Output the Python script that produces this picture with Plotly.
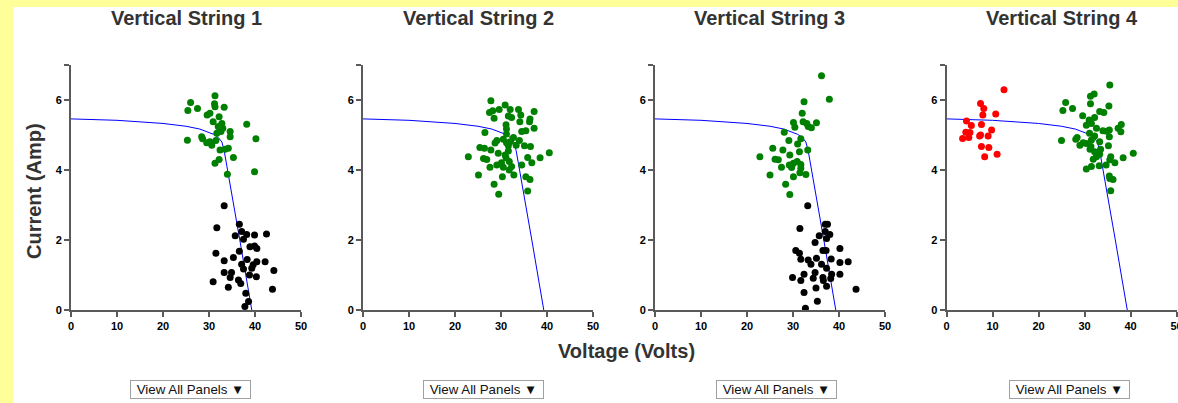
import plotly.graph_objects as go

W, H = 1178, 403

# IV reference curve (Voltage, Current)
curve_v = [0, 10, 20, 25, 28, 30, 31, 32, 32.8, 33.3, 34.0, 36.7, 39.3]
curve_i = [5.46, 5.42, 5.33, 5.25, 5.17, 5.08, 5.02, 4.93, 4.80, 4.55, 4.00, 2.00, 0.0]

# Panel 1
p1_green_v = [31.3, 26.0, 27.5, 25.4, 31.2, 31.3, 33.3, 30.2, 29.6, 32.2, 30.9, 32.8, 32.0, 33.0, 34.6,
              38.2, 25.3, 28.4, 28.6, 29.5, 30.6, 31.5, 32.6, 34.6, 32.4, 33.5, 34.2, 40.2, 35.3, 32.2,
              31.3, 34.0, 39.9, 32.4, 31.7, 30.2]
p1_green_i = [6.12, 5.93, 5.76, 5.70, 5.89, 5.81, 5.79, 5.62, 5.57, 5.52, 5.38, 5.33, 5.24, 5.19, 5.10,
              5.31, 4.85, 4.95, 4.89, 4.78, 4.71, 4.84, 5.10, 4.95, 4.57, 4.59, 4.62, 4.89, 4.36, 4.30,
              4.19, 3.88, 3.95, 5.14, 5.05, 4.81]
p1_black_v = [33.3, 31.7, 36.6, 37.1, 35.7, 38.2, 39.9, 42.5, 37.5, 38.9, 39.9, 40.4, 31.5, 36.6, 35.3,
              33.3, 38.3, 42.2, 40.4, 37.1, 39.6, 37.5, 39.3, 44.1, 33.3, 34.9, 34.6, 38.8, 40.3, 30.9,
              36.4, 36.9, 34.2, 43.8, 38.0, 38.6, 37.8]
p1_black_i = [2.98, 2.35, 2.45, 2.24, 2.12, 2.16, 2.14, 2.17, 2.02, 1.81, 1.83, 1.76, 1.62, 1.68, 1.50,
              1.41, 1.44, 1.38, 1.38, 1.31, 1.29, 1.17, 1.19, 1.13, 1.07, 1.07, 0.93, 1.00, 0.95, 0.81,
              0.86, 0.76, 0.65, 0.59, 0.48, 0.24, 0.10]

# Panel 2
p2_green_v = [27.8, 30.9, 29.6, 32.0, 33.8, 27.5, 28.2, 37.2, 34.3, 31.6, 32.3, 28.5, 36.3, 34.1, 36.2,
              31.1, 37.2, 31.2, 35.4, 34.5, 26.5, 31.2, 32.7, 30.5, 29.1, 32.0, 34.0, 28.7, 31.2, 33.3,
              35.1, 36.4, 25.4, 26.4, 27.8, 31.6, 29.4, 40.5, 22.9, 26.2, 26.9, 31.1, 35.8, 38.5, 31.8,
              30.1, 34.5, 36.7, 29.1, 27.6, 30.5, 31.8, 32.8, 25.1, 30.3, 35.4, 36.3, 28.5, 35.8, 29.5,
              31.6, 30.9, 32.3]
p2_green_i = [5.98, 5.86, 5.73, 5.73, 5.73, 5.64, 5.69, 5.67, 5.57, 5.54, 5.50, 5.48, 5.46, 5.38, 5.38,
              5.29, 5.19, 5.17, 5.12, 5.10, 5.07, 5.03, 4.93, 4.88, 4.84, 4.81, 4.84, 4.77, 4.78, 4.71,
              4.69, 4.67, 4.64, 4.62, 4.57, 4.54, 4.48, 4.49, 4.38, 4.33, 4.30, 4.35, 4.36, 4.35, 4.24,
              4.21, 4.14, 4.21, 4.14, 4.08, 4.08, 4.00, 3.86, 3.86, 3.81, 3.81, 3.73, 3.59, 3.40, 3.31,
              4.69, 4.43, 4.10]

# Panel 3
p3_green_v = [36.2, 37.9, 32.4, 32.0, 30.1, 32.2, 33.0, 35.1, 30.4, 33.3, 34.0, 28.1, 31.7, 29.1, 31.0,
              25.6, 27.8, 31.4, 33.2, 29.3, 22.8, 26.1, 26.8, 30.9, 30.1, 29.2, 31.7, 27.5, 29.7, 31.7,
              31.5, 32.8, 25.0, 30.1, 28.4, 29.3]
p3_green_i = [6.69, 6.02, 5.95, 5.62, 5.36, 5.38, 5.33, 5.35, 5.22, 5.24, 5.21, 5.08, 4.89, 4.84, 4.74,
              4.62, 4.57, 4.52, 4.57, 4.43, 4.38, 4.31, 4.29, 4.24, 4.19, 4.14, 4.16, 4.08, 4.07, 4.05,
              3.92, 3.87, 3.86, 3.81, 3.59, 3.30]
p3_black_v = [33.2, 37.0, 37.5, 31.5, 37.0, 38.0, 35.7, 37.3, 34.8, 40.2, 30.6, 31.4, 36.5, 37.2, 31.7,
              33.3, 35.1, 38.3, 42.0, 40.2, 33.9, 36.2, 37.3, 32.4, 34.8, 38.4, 40.2, 29.9, 34.4, 36.5,
              38.2, 31.7, 36.6, 37.3, 35.0, 43.7, 32.4, 35.3, 32.7]
p3_black_i = [2.98, 2.45, 2.45, 2.33, 2.24, 2.16, 2.12, 2.04, 1.93, 1.76, 1.70, 1.62, 1.70, 1.70, 1.45,
              1.43, 1.48, 1.46, 1.38, 1.36, 1.31, 1.31, 1.19, 1.02, 1.07, 1.02, 1.02, 0.93, 0.91, 0.93,
              0.90, 0.84, 0.84, 0.68, 0.63, 0.59, 0.50, 0.25, 0.05]

# Panel 4
p4_red_v = [12.5, 7.4, 8.1, 7.9, 10.7, 4.35, 5.4, 7.6, 9.8, 4.2, 5.1, 3.5, 4.85, 7.2, 7.4, 9.05, 7.6, 9.2,
            8.3, 11.0]
p4_red_i = [6.29, 5.90, 5.76, 5.57, 5.60, 5.40, 5.27, 5.30, 5.14, 5.08, 5.07, 4.90, 4.93, 4.97, 5.00, 4.97,
            4.67, 4.64, 4.38, 4.45]
p4_green_v = [35.5, 32.1, 31.3, 25.9, 31.3, 35.3, 27.4, 25.3, 33.3, 34.2, 29.6, 32.2, 31.0, 31.5, 38.0,
              30.4, 37.3, 32.6, 34.0, 35.4, 34.8, 37.9, 31.1, 35.4, 28.4, 32.2, 31.5, 28.1, 25.0, 33.3,
              29.7, 30.4, 29.0, 31.4, 35.2, 33.5, 31.2, 32.2, 40.6, 33.3, 31.9, 32.6, 35.7, 38.4, 35.5,
              36.6, 33.2, 31.5, 34.7, 30.4, 35.4, 36.2, 35.5, 35.7]
p4_green_i = [6.43, 6.17, 6.11, 5.93, 5.89, 5.83, 5.76, 5.70, 5.67, 5.64, 5.55, 5.50, 5.43, 5.33, 5.30,
              5.28, 5.19, 5.19, 5.12, 5.14, 5.11, 5.09, 5.05, 4.95, 4.93, 4.97, 4.86, 4.88, 4.84, 4.81,
              4.78, 4.76, 4.71, 4.67, 4.69, 4.59, 4.59, 4.52, 4.48, 4.45, 4.31, 4.38, 4.38, 4.35, 4.29,
              4.21, 4.12, 4.10, 4.14, 4.03, 3.83, 3.73, 3.76, 3.41]

titles = ["Vertical String 1", "Vertical String 2", "Vertical String 3", "Vertical String 4"]
x_ticks = [0, 10, 20, 30, 40, 50]
y_ticks = [0, 2, 4, 6, 7]
y_tick_text = ["0", "2", "4", "6", ""]
dropdown_label = "View All Panels ▼"

panels = [
    [(p1_green_v, p1_green_i, "#008000"), (p1_black_v, p1_black_i, "#000000")],
    [(p2_green_v, p2_green_i, "#008000")],
    [(p3_green_v, p3_green_i, "#008000"), (p3_black_v, p3_black_i, "#000000")],
    [(p4_red_v, p4_red_i, "#ff0000"), (p4_green_v, p4_green_i, "#008000")],
]

fig = go.Figure()

x0_px = [71, 363, 655, 946.5]
plot_w = 230
y_bot_px, y_top_px = 310, 65
dd_centers = [190.5, 483.5, 776.5, 1069]

axis_color = "#5a5a5a"
FONT = "Liberation Sans, Arial"
layout = {}
annotations = []
for k in range(4):
    xa = "x" if k == 0 else f"x{k+1}"
    ya = "y" if k == 0 else f"y{k+1}"
    # reference curve
    fig.add_trace(go.Scatter(x=curve_v, y=curve_i, mode="lines",
                             line=dict(color="#0000ff", width=1),
                             xaxis=xa, yaxis=ya, showlegend=False, hoverinfo="skip"))
    for vs, cs, col in panels[k]:
        fig.add_trace(go.Scatter(x=vs, y=cs, mode="markers",
                                 marker=dict(color=col, size=7, line=dict(width=0)),
                                 xaxis=xa, yaxis=ya, showlegend=False))
    xd = [x0_px[k] / W, (x0_px[k] + plot_w) / W]
    yd = [(H - y_bot_px) / H, (H - y_top_px) / H]
    common = dict(showgrid=False, zeroline=False, showline=True, linecolor=axis_color, linewidth=2,
                  ticks="outside", ticklen=5, tickwidth=1.5, tickcolor=axis_color,
                  tickfont=dict(family=FONT, size=11, color="#000", weight="bold"),
                  fixedrange=True, automargin=False, ticklabeloverflow="allow")
    layout["xaxis" if k == 0 else f"xaxis{k+1}"] = dict(
        domain=xd, range=[0, 50], tickvals=x_ticks, anchor=ya, **common)
    layout["yaxis" if k == 0 else f"yaxis{k+1}"] = dict(
        domain=yd, range=[0, 7], tickvals=y_ticks, ticktext=y_tick_text, anchor=xa, **common)
    annotations.append(dict(text=f"<b>{titles[k]}</b>", x=(x0_px[k] + plot_w / 2) / W, y=(H - 18) / H,
                            xref="paper", yref="paper", showarrow=False,
                            font=dict(family=FONT, size=20, color="#333333"),
                            xanchor="center", yanchor="middle"))
    annotations.append(dict(text=dropdown_label, x=dd_centers[k] / W, y=(H - 389.5) / H,
                            xref="paper", yref="paper", showarrow=False,
                            font=dict(family=FONT, size=13.3, color="#111"),
                            bgcolor="#ffffff", bordercolor="#a0a0a0", borderwidth=1, borderpad=0,
                            width=119, height=17, xanchor="center", yanchor="middle"))

annotations.append(dict(text="<b>Current (Amp)</b>", x=34 / W, y=(H - 191) / H, xref="paper", yref="paper",
                        showarrow=False, textangle=-90,
                        font=dict(family=FONT, size=20, color="#333333"),
                        xanchor="center", yanchor="middle"))
annotations.append(dict(text="<b>Voltage (Volts)</b>", x=626 / W, y=(H - 351) / H, xref="paper", yref="paper",
                        showarrow=False,
                        font=dict(family=FONT, size=20, color="#333333"),
                        xanchor="center", yanchor="middle"))

fig.update_layout(
    width=W, height=H, margin=dict(l=0, r=0, t=0, b=0, pad=0, autoexpand=False),
    paper_bgcolor="#ffff99", plot_bgcolor="rgba(0,0,0,0)",
    annotations=annotations,
    shapes=[dict(type="rect", xref="paper", yref="paper", x0=13 / W, x1=1.01, y0=-0.01, y1=(H - 7) / H,
                 fillcolor="#ffffff", line=dict(width=0), layer="below")],
    **layout,
)

fig.write_html("out.html", config={"displayModeBar": False})
